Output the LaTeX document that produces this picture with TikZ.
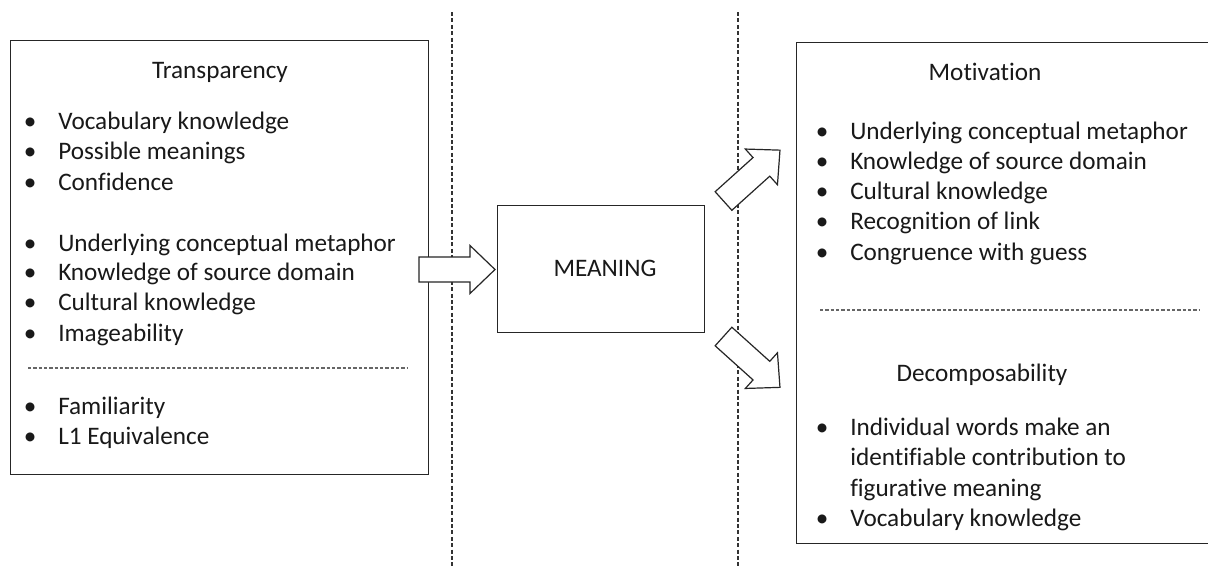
\documentclass[tikz,border=0pt]{standalone}
\usepackage{fontspec}
\setmainfont[RawFeature=-liga]{Carlito}
\begin{document}
\begin{tikzpicture}[x=0.75pt,y=-0.75pt,
  box/.style={draw=black!85,line width=1pt},
  vdash/.style={draw=black!80,line width=0.8pt,dash pattern=on 3pt off 1.8pt},
  hdash/.style={draw=black!60,line width=0.8pt,dash pattern=on 2.4pt off 1.6pt},
  blockarrow/.style={draw=black!85,line width=0.9pt,fill=white,line join=miter},
  txt/.style={inner sep=0pt,font=\fontsize{18.9pt}{22pt}\selectfont,text=black!90},
  item/.style={txt,anchor=base west},
  title/.style={txt,anchor=base}]
\clip (0,0) rectangle (1208,568);
\fill[white] (0,0) rectangle (1208,568);
% separators
\coordinate (s1t) at (452,12); \coordinate (s1b) at (452,570);
\coordinate (s2t) at (738,12); \coordinate (s2b) at (738,570);
\draw[vdash] (s1t) -- (s1b);
\draw[vdash] (s2t) -- (s2b);
% boxes
\node[box,minimum width=418*0.75pt,minimum height=434*0.75pt,anchor=north west,inner sep=0pt] (left) at (10,40) {};
\node[box,minimum width=424*0.75pt,minimum height=501*0.75pt,anchor=north west,inner sep=0pt] (right) at (796,42) {};
\node[box,minimum width=207*0.75pt,minimum height=127*0.75pt,anchor=north west,inner sep=0pt] (meaning) at (497,205) {};
\node[title] (mtext) at (605,276) {MEANING};
% left box content
\node[title] (t1) at (220,78) {Transparency};
\foreach \i/\y/\t in {1/129/Vocabulary knowledge, 2/159.5/Possible meanings, 3/190/Confidence,
  4/251/Underlying conceptual metaphor, 5/280.5/Knowledge of source domain, 6/310.5/Cultural knowledge, 7/341/Imageability,
  8/414/Familiarity, 9/444/L1 Equivalence}
  \node[item] (l\i) at (21,\y) {\makebox[13.5pt]{•}\hspace{14.25pt}\t};
\coordinate (ld1) at (28,368); \coordinate (ld2) at (408,368);
\draw[hdash] (ld1) -- (ld2);
% right box content
\node[title] (t2) at (985,80) {Motivation};
\foreach \i/\y/\t in {1/139/Underlying conceptual metaphor, 2/169/Knowledge of source domain, 3/199/Cultural knowledge,
  4/229.5/Recognition of link, 5/260/Congruence with guess}
  \node[item] (r\i) at (813,\y) {\makebox[13.5pt]{•}\hspace{14.25pt}\t};
\coordinate (rd1) at (820,310); \coordinate (rd2) at (1200,310);
\draw[hdash] (rd1) -- (rd2);
\node[title] (t3) at (982,381) {Decomposability};
\node[item] (d1) at (813,435) {\makebox[13.5pt]{•}\hspace{14.25pt}Individual words make an};
\node[item] (d2) at (850,465.5) {identifiable contribution to};
\node[item] (d3) at (850,496) {figurative meaning};
\node[item] (d4) at (813,526) {\makebox[13.5pt]{•}\hspace{14.25pt}Vocabulary knowledge};
% block arrows
\draw[blockarrow,shift={(419,269.5)}] (0,-12.5) -- (51,-12.5) -- (51,-24) -- (76,0) -- (51,24) -- (51,12.5) -- (0,12.5) -- cycle;
\draw[blockarrow,shift={(723.5,201)},rotate=42] (0,-12.5) -- (51,-12.5) -- (51,-24) -- (76,0) -- (51,24) -- (51,12.5) -- (0,12.5) -- cycle;
\draw[blockarrow,shift={(723.5,336.5)},rotate=-42] (0,-12.5) -- (51,-12.5) -- (51,-24) -- (76,0) -- (51,24) -- (51,12.5) -- (0,12.5) -- cycle;
\end{tikzpicture}
\end{document}
